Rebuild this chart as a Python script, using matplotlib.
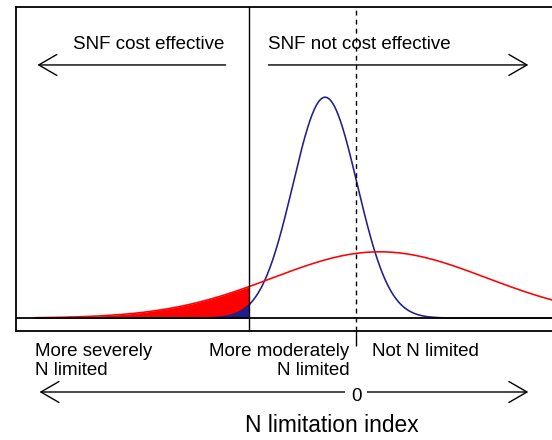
import numpy as np
import matplotlib
matplotlib.use("Agg")
import matplotlib.pyplot as plt
from matplotlib.transforms import blended_transform_factory

plt.rcParams['font.family'] = ['Liberation Sans', 'DejaVu Sans']

# two normal distributions of the N limitation index
dist_means = [-0.29, 0.22]
dist_sds = [0.30, 1.0]
dist_colors = ["#1f1f8c", "#ff0000"]
cutoff = -1.0
x_start = -3.0

top_labels = ["SNF cost effective", "SNF not cost effective"]
bottom_labels = ["More severely\nN limited", "More moderately\nN limited", "Not N limited"]
axis_title = "N limitation index"


def norm_pdf(x, mu, sd):
    return np.exp(-0.5 * ((x - mu) / sd) ** 2) / (sd * np.sqrt(2 * np.pi))


W, H = 552, 440
fig = plt.figure(figsize=(W / 100, H / 100), dpi=100)
# axes run off the right edge of the figure
ax = fig.add_axes([16 / W, 1 - 331 / H, 584 / W, 324 / H])
ax.set_xlim(-3.18, 2.28)
ax.set_ylim(-0.078, 1.873)

x = np.linspace(x_start, 2.4, 800)
left = x <= cutoff
for mu, sd, col in zip(dist_means[::-1], dist_sds[::-1], dist_colors[::-1]):
    y = norm_pdf(x, mu, sd)
    ax.fill_between(x[left], 0, y[left], color=col, lw=0)
for mu, sd, col in zip(dist_means, dist_sds, dist_colors):
    ax.plot(x, norm_pdf(x, mu, sd), color=col, lw=1.15)

ax.axhline(0, color="black", lw=1.3)
ax.axvline(cutoff, color="black", lw=1.0)
ax.axvline(0, color="black", lw=1.0, dashes=(3.5, 3))

for s in ax.spines.values():
    s.set_linewidth(1.3)
ax.set_yticks([])
ax.set_xticks([0])
ax.set_xticklabels([""])
ax.tick_params(axis="x", length=10.5, width=1.0, direction="out")

head = dict(arrowstyle="->,head_length=1.0,head_width=0.58",
            mutation_scale=13, lw=1.0, color="black", shrinkA=0, shrinkB=0)

# arrows and labels inside the panel
ax.annotate("", xy=(-2.98, 1.524), xytext=(-1.22, 1.524), arrowprops=head)
ax.annotate("", xy=(1.61, 1.524), xytext=(-0.82, 1.524), arrowprops=head)
ax.text(-1.23, 1.645, top_labels[0], ha="right", va="center", fontsize=13.5)
ax.text(-0.82, 1.645, top_labels[1], ha="left", va="center", fontsize=13.5)

# labels below the panel
bt = blended_transform_factory(ax.transData, fig.transFigure)
ax.text(-3.00, 1 - 361 / H, bottom_labels[0], ha="left", va="center",
        fontsize=13.5, transform=bt, linespacing=1.2)
ax.text(-0.06, 1 - 361 / H, bottom_labels[1], ha="right", va="center",
        fontsize=13.5, transform=bt, linespacing=1.2, multialignment="right")
ax.text(0.15, 1 - 351 / H, bottom_labels[2], ha="left", va="center",
        fontsize=13.5, transform=bt)

ax.annotate("", xy=(-2.96, 1 - 392 / H), xytext=(1.61, 1 - 392 / H),
            xycoords=bt, textcoords=bt,
            arrowprops=dict(head, arrowstyle="<->,head_length=1.0,head_width=0.58"),
            annotation_clip=False)
ax.text(0, 1 - 396 / H, "0", ha="center", va="center", fontsize=13.5,
        transform=bt, bbox=dict(fc="white", ec="none", pad=4))
ax.text(-0.23, 1 - 425 / H, axis_title, ha="center", va="center",
        fontsize=16.4, transform=bt)

fig.savefig("out.png", dpi=100)
